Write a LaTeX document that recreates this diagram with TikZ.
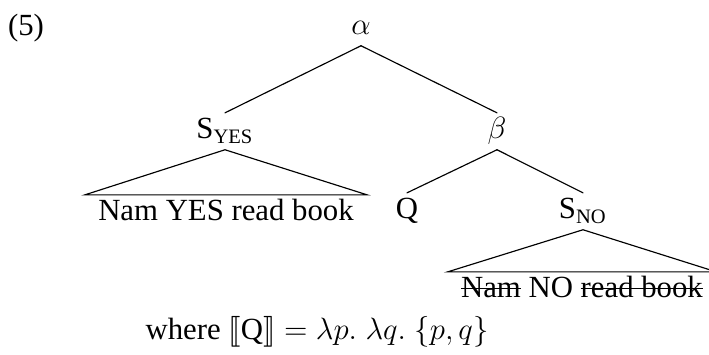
\documentclass[tikz,border=0pt,12pt]{standalone}
\usepackage{fontspec}
\setmainfont{Liberation Serif}
\usepackage{stmaryrd}
\usetikzlibrary{positioning}
\newcommand\tacha[1]{\setbox0\hbox{#1}\rlap{\rule[0.29em]{\wd0}{0.45pt}}\box0\relax}
\tikzset{
  nodo/.style={anchor=base, inner sep=0pt, text height=10pt, text depth=4pt},
  hoja/.style={anchor=base, inner ysep=0pt, inner xsep=5pt, text height=10pt, text depth=4pt},
  rama/.style={line width=0.45pt, line cap=round},
  techo/.style={line width=0.45pt, line join=miter}
}

\begin{document}
\begin{tikzpicture}[x=0.39pt, y=-0.39pt]
  \useasboundingbox (0,0) rectangle (709,355);
  \node[anchor=base] (num) at (26,36) {(5)};

  \node[nodo] (alpha) at (361,35) {$\alpha$};
  \node[nodo] (syes) at (225,139) {S\textsubscript{YES}};
  \node[nodo] (beta) at (497,139) {$\beta$};
  \node[nodo] (q) at (407,219) {Q};
  \node[nodo] (sno) at (583,219) {S\textsubscript{NO}};

  \node[hoja] (hyes) at (226,221) {Nam YES read book};
  \node[hoja] (hno) at (582,298) {\tacha{Nam} NO \tacha{read book}};

  \draw[rama] (alpha.south) -- (syes.north);
  \draw[rama] (alpha.south) -- (beta.north);
  \draw[rama] (beta.south) -- (q.north);
  \draw[rama] (beta.south) -- (sno.north);
  \draw[techo] (hyes.north west) -- (syes.south) -- (hyes.north east) -- cycle;
  \draw[techo] (hno.north west) -- (sno.south) -- (hno.north east) -- cycle;

  \node[anchor=base] (where) at (317,340) {where $\llbracket\mbox{Q}\rrbracket = \lambda p.\; \lambda q.\; \{p,q\}$};
\end{tikzpicture}
\end{document}
